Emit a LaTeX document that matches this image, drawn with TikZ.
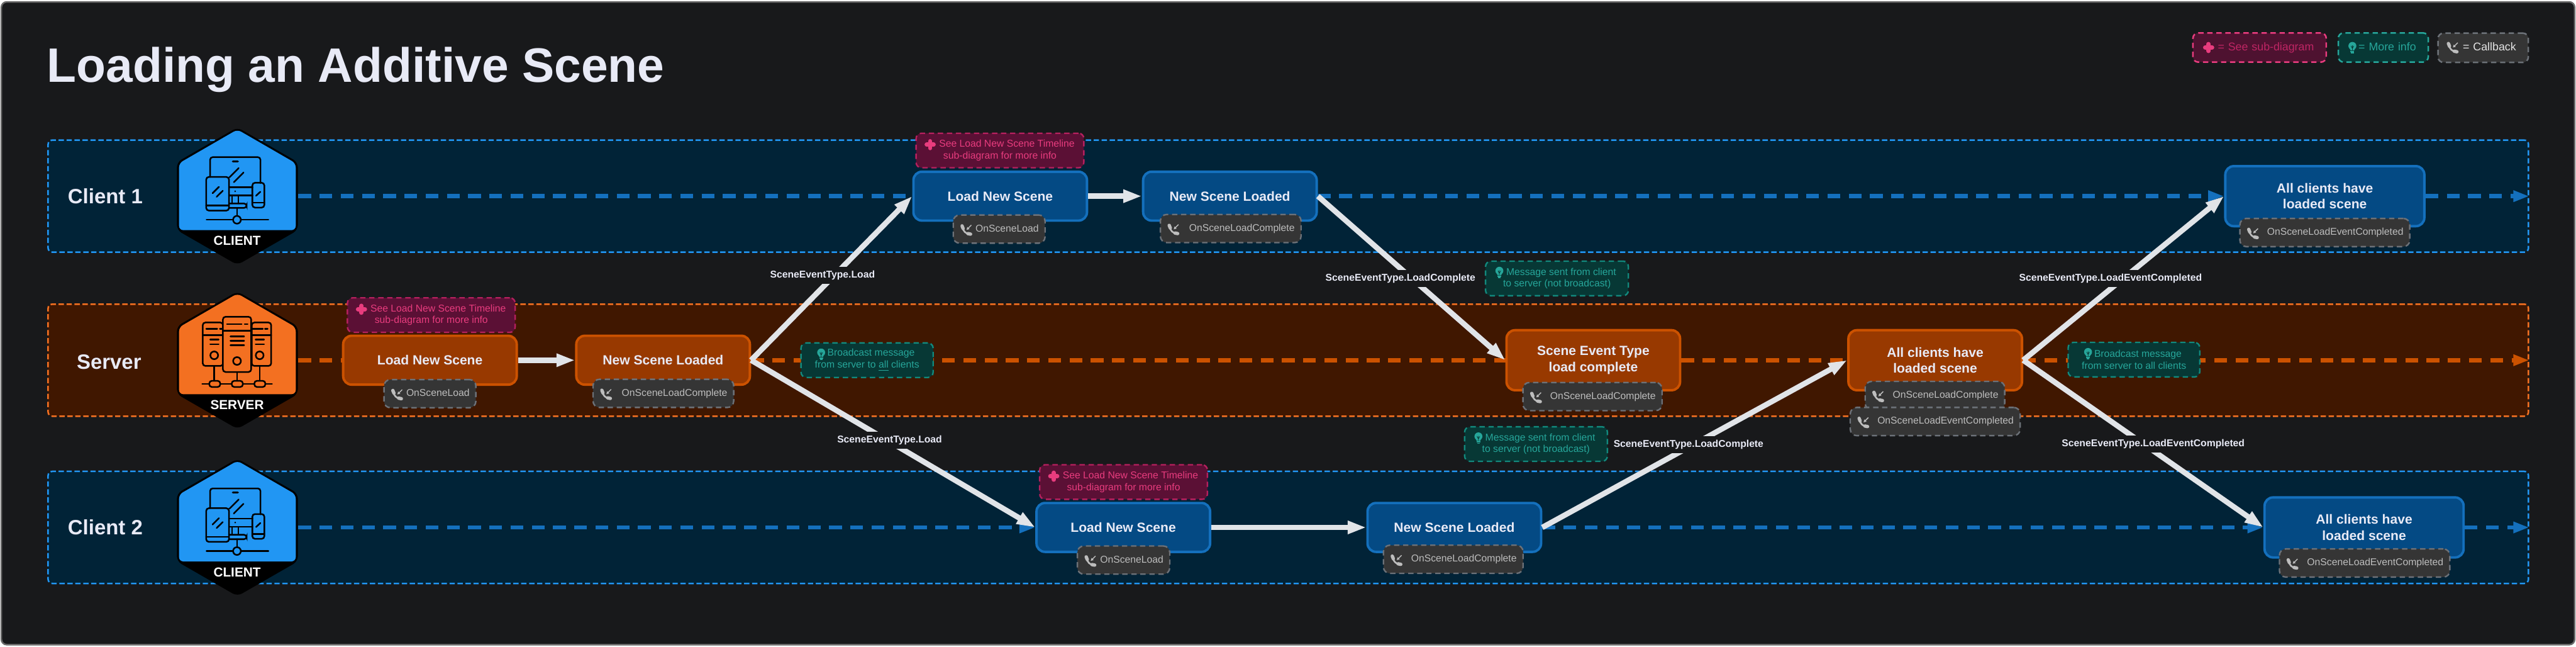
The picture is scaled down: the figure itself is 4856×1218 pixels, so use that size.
\documentclass[tikz,border=0pt]{standalone}
\usepackage{fontspec}
\setmainfont{Liberation Sans}
\usetikzlibrary{arrows.meta,backgrounds}
\definecolor{bgdark}{HTML}{18191B}
\definecolor{frameline}{HTML}{6A6A6A}
\definecolor{clientlane}{HTML}{012337}
\definecolor{clientedge}{HTML}{2196F3}
\definecolor{clientnode}{HTML}{044A84}
\definecolor{clientline}{HTML}{1470BD}
\definecolor{serverlane}{HTML}{401700}
\definecolor{serveredge}{HTML}{F37021}
\definecolor{servernode}{HTML}{983900}
\definecolor{serverline}{HTML}{CC5200}
\definecolor{subfill}{HTML}{5B1035}
\definecolor{subedge}{HTML}{B5205E}
\definecolor{subtext}{HTML}{E83C7E}
\definecolor{notefill}{HTML}{073835}
\definecolor{noteedge}{HTML}{12897D}
\definecolor{notetext}{HTML}{26A69A}
\definecolor{cbfill}{HTML}{353535}
\definecolor{cbedge}{HTML}{6C7178}
\definecolor{cbtext}{HTML}{BDBDBD}
\definecolor{arrowwhite}{HTML}{E1E4E8}
\definecolor{titletext}{HTML}{E8EAF6}
\tikzset{
  lanebox/.style={
    rectangle, rounded corners=.08cm, line width=.85pt, dash pattern=on .1cm off .05cm,
    minimum width=46.73cm, minimum height=2.11cm
  },
  stepbox/.style={
    rectangle, rounded corners=.16cm, line width=1.3pt, minimum width=3.27cm, minimum height=.92cm,
    align=center, text=titletext, font=\fontsize{7.1}{8.5}\selectfont\bfseries
  },
  clientbox/.style={stepbox, draw=clientline, fill=clientnode},
  serverbox/.style={stepbox, draw=serverline, fill=servernode},
  tallbox/.style={minimum height=1.13cm},
  widebox/.style={minimum width=3.75cm},
  cbbox/.style={
    rectangle, rounded corners=.12cm, draw=cbedge, fill=cbfill, line width=.8pt,
    dash pattern=on .1cm off .07cm, text width=#1, align=right, inner xsep=.12cm,
    minimum height=.53cm, text height=.14cm, text depth=.04cm, text=cbtext,
    font=\fontsize{5.3}{6.3}\selectfont
  },
  subbox/.style={
    rectangle, rounded corners=.1cm, draw=subedge, fill=subfill, line width=.8pt,
    dash pattern=on .1cm off .07cm, minimum width=3.16cm, minimum height=.65cm,
    inner sep=0pt, align=center, text=subtext, font=\fontsize{5.3}{6.25}\selectfont
  },
  notebox/.style={
    rectangle, rounded corners=.1cm, draw=noteedge, fill=notefill, line width=.8pt,
    dash pattern=on .1cm off .07cm, minimum width=#1, minimum height=.65cm,
    inner sep=0pt, align=center, text=notetext, font=\fontsize{5.3}{6.25}\selectfont
  },
  legendbox/.style={
    rectangle, rounded corners=.1cm, line width=.85pt, dash pattern=on .1cm off .07cm,
    text width=#1, align=right, inner xsep=.23cm, minimum height=.55cm,
    text height=.16cm, text depth=.05cm, font=\fontsize{6}{7}\selectfont
  },
  eventlabel/.style={
    rectangle, fill=bgdark, inner xsep=.03cm, inner ysep=0pt, minimum height=.32cm,
    text=titletext, font=\fontsize{5.3}{6.3}\selectfont\bfseries
  },
  flowarrow/.style={-{Triangle[length=.35cm,width=.23cm]}, line width=2.9pt, draw=arrowwhite},
  clientdash/.style={line width=2.3pt, draw=clientline, dash pattern=on .24cm off .16cm},
  serverdash/.style={line width=2.3pt, draw=serverline, dash pattern=on .24cm off .16cm},
  dashtip/.style={-{Triangle[length=.3cm,width=.2cm]}},
  lanename/.style={text=titletext, font=\fontsize{11.1}{13}\selectfont\bfseries},
  badgename/.style={text=white, font=\fontsize{7}{8}\selectfont\bfseries},
  pics/hexbadge/.style={code={
    \fill[black, rounded corners=.1cm] (0,-129.5) -- (114,-64) -- (114,64) -- (0,129.5) -- (-114,64) -- (-114,-64) -- cycle;
    \fill[#1, rounded corners=.08cm] (0,-125.5) -- (110,-62) -- (110,64) -- (-110,64) -- (-110,-62) -- cycle;
  }},
  pics/plusicon/.style={code={
    \draw[#1, line width=2.3pt, line cap=round] (-6.5,0) -- (6.5,0) (0,-6.5) -- (0,6.5);
  }},
  pics/bulbicon/.style={code={
    \fill[#1] (0,-3) circle[radius=7.5];
    \fill[#1] (-5.5,0) -- (5.5,0) -- (3.5,5.5) -- (-3.5,5.5) -- cycle;
    \draw[#1, line width=.5pt] (-3.5,7.5) -- (3.5,7.5) (-2.5,10) -- (2.5,10);
    \draw[notefill, line width=.25pt] (-2.5,-3) -- (0,2) -- (2.5,-3) (0,-4) -- (0,5);
  }},
  pics/phoneicon/.style={code={
    \draw[#1, line width=.9pt] (-7,-6) .. controls (-7,1) and (0,8) .. (6,7);
    \draw[#1, line width=1.8pt, line cap=round] (-8,-8) -- (-6,-3) (3,6.5) -- (8,7.5);
    \draw[#1, line width=.5pt] (9.5,-9.5) -- (3,-3);
    \fill[#1] (0.5,-0.5) -- (6,-2) -- (2,-6) -- cycle;
  }},
  pics/clienticon/.style={code={
    \begin{scope}[draw=black, line width=.85pt, line cap=round, rounded corners=.05cm]
    % monitor
    \draw (-51.5,-36) -- (-51.5,-73.5) -- (43.5,-73.5) -- (43.5,-24.5);
    \draw (-15.8,-16.8) -- (28.5,-16.8) (-15.8,-1.2) -- (28.5,-1.2);
    \draw (-10.2,-1.2) -- (-10.2,13.8) (1.8,-1.2) -- (1.8,13.8);
    \draw (-15.8,13.8) -- (17.5,13.8) -- (17.5,22.2) -- (-15.8,22.2);
    \draw[line width=1.1pt] (-8.5,-65.5) -- (0.8,-65.5);
    \fill[black] (-4.2,-9.2) circle[radius=1.6];
    \draw (-14.8,-35.5) -- (2.5,-52.8) (-6.8,-26.2) -- (11.5,-44.5);
    % tablet
    \draw (-58.8,-36.2) rectangle (-15.8,27.2);
    \draw (-58.8,17.8) -- (-15.8,17.8);
    \draw (-46.8,-5.5) -- (-34.8,-17.5) (-39.2,1.2) -- (-27.5,-10.2);
    % phone
    \draw (28.2,-25.2) rectangle (50.8,21.5);
    \draw (28.2,12.5) -- (50.8,12.5);
    \draw (35.2,-0.8) -- (43.2,-8.2);
    % network
    \draw (-0.8,22.2) -- (-0.8,37.2);
    \draw (-58.2,44.5) -- (58.5,44.5);
    \draw[fill=clientedge] (-0.8,44.5) circle[radius=7.3];
    \end{scope}
  }},
  pics/servericon/.style={code={
    \begin{scope}[draw=black, line width=.85pt, line cap=round, rounded corners=.05cm]
    % stems
    \draw (-43.7,10.8) -- (-43.7,39.8) (-0.7,22.2) -- (-0.7,39.8) (42,10.8) -- (42,39.8);
    \draw (-66.3,44.8) -- (65.3,44.8);
    \draw[fill=serveredge] (-53,38.8) rectangle (-32.3,50.5);
    \draw[fill=serveredge] (-10.7,38.8) rectangle (10.3,50.5);
    \draw[fill=serveredge] (32,38.8) rectangle (52.7,50.5);
    % side towers
    \draw (-65.3,-71) rectangle (-27,10.8);
    \draw (-65.3,-47.5) -- (-27,-47.5);
    \draw (-58.7,-59) -- (-38,-59) (-33,-59) -- (-28,-59);
    \draw (-51.3,-39) -- (-35.3,-39) (-51.3,-29.8) -- (-35.3,-29.8);
    \draw (-43.7,-9.2) circle[radius=7.3];
    \draw (27,-71) rectangle (63.7,10.8);
    \draw (27,-47.5) -- (63.7,-47.5);
    \draw (28,-59) -- (48,-59) (52,-59) -- (57,-59);
    \draw (34.3,-39) -- (50.3,-39) (34.3,-29.8) -- (50.3,-29.8);
    \draw (42,-9.2) circle[radius=7.3];
    % middle tower
    \draw[fill=serveredge] (-27.3,-81.8) rectangle (26,22.2);
    \draw (-27.3,-55.8) -- (26,-55.8);
    \draw (-19.7,-68) -- (8,-68) (13.7,-68) -- (19.3,-68);
    \draw (-13,-45) -- (12.7,-45) (-13,-36.8) -- (12.7,-36.8) (-13,-28.2) -- (12.7,-28.2);
    \draw (-0.7,1.5) circle[radius=7.3];
    \end{scope}
  }}
}

\begin{document}
\begin{tikzpicture}[x=0.01cm, y=-0.01cm]
\useasboundingbox (0,0) rectangle (4856,1218);

% Title
\node[anchor=base west, inner sep=0pt, text=titletext, font=\fontsize{25.9}{30}\selectfont\bfseries] (title) at (88,155) {Loading an Additive Scene};

% Legend
\node[legendbox=2.05cm, draw=subtext, fill=subfill!80!bgdark, text=subedge!80!subtext] (legSub) at (4259.5,89.5) {= See sub-diagram};
\node[legendbox=1.235cm, draw=notetext, fill=notefill, text=notetext] (legNote) at (4492.7,89.5) {= More info};
\node[legendbox=1.24cm, draw=cbedge, fill=cbfill, text=white!90!black] (legCb) at (4681,90) {= Callback};
\pic at ([xshift=.31cm]legSub.west) {plusicon=subtext};
\pic at ([xshift=.28cm]legNote.west) {bulbicon=notetext};
\pic at ([xshift=.29cm]legCb.west) {phoneicon=cbtext};

% Badges
\node[minimum width=2.28cm, minimum height=2.59cm, inner sep=0pt] (hexA) at (447.5,369.5) {};
\node[minimum width=2.28cm, minimum height=2.59cm, inner sep=0pt] (hexS) at (447.5,678.5) {};
\node[minimum width=2.28cm, minimum height=2.59cm, inner sep=0pt] (hexC) at (447.5,993.5) {};
\pic at (hexA.center) {hexbadge=clientedge};
\pic at (hexA.center) {clienticon};
\pic at (hexS.center) {hexbadge=serveredge};
\pic at (hexS.center) {servericon};
\pic at (hexC.center) {hexbadge=clientedge};
\pic at (hexC.center) {clienticon};
\node[badgename] (tagA) at (447,453.5) {CLIENT};
\node[badgename] (tagS) at (447,762.5) {SERVER};
\node[badgename] (tagC) at (447,1077.5) {CLIENT};

% Lane names
\node[lanename] (nameA) at (198.5,369.5) {Client 1};
\node[lanename] (nameS) at (205.5,682) {Server};
\node[lanename] (nameC) at (198.5,993.5) {Client 2};

% Client 1 row
\node[clientbox] (loadA) at (1885.5,369.5) {Load New Scene};
\node[clientbox] (newA) at (2318.5,369.5) {New Scene Loaded};
\node[clientbox, tallbox, widebox] (allA) at (4382.5,369.5) {All clients have\\loaded scene};

% Server row
\node[serverbox] (loadS) at (810.5,678.5) {Load New Scene};
\node[serverbox] (newS) at (1250,678.5) {New Scene Loaded};
\node[serverbox, tallbox] (sceneS) at (3003.5,678.5) {Scene Event Type\\load complete};
\node[serverbox, tallbox] (allS) at (3648,678.5) {All clients have\\loaded scene};

% Client 2 row
\node[clientbox] (loadC) at (2117.5,993.5) {Load New Scene};
\node[clientbox] (newC) at (2741.5,993.5) {New Scene Loaded};
\node[clientbox, tallbox, widebox] (allC) at (4456.5,993.5) {All clients have\\loaded scene};

% Lanes and dashed timelines
\begin{scope}[on background layer]
\node[rectangle, rounded corners=.1cm, draw=frameline, fill=bgdark, line width=.85pt, minimum width=48.48cm, minimum height=12.1cm] (frame) at (2428,609) {};
\node[lanebox, draw=clientedge, fill=clientlane] (laneA) at (2428.5,369.5) {};
\node[lanebox, draw=serveredge, fill=serverlane] (laneS) at (2428.5,678.5) {};
\node[lanebox, draw=clientedge, fill=clientlane] (laneC) at (2428.5,993.5) {};
\draw[clientdash] (hexA.east) -- (loadA.west);
\draw[clientdash, dashtip] (newA.east) -- (allA.west);
\draw[clientdash, dashtip] (allA.east) -- (laneA.east);
\draw[serverdash] (hexS.east) -- (loadS.west);
\draw[serverdash] (newS.east) -- (sceneS.west);
\draw[serverdash] (sceneS.east) -- (allS.west);
\draw[serverdash, dashtip] (allS.east) -- (laneS.east);
\draw[clientdash, dashtip] (hexC.east) -- (loadC.west);
\draw[clientdash, dashtip] (newC.east) -- (allC.west);
\draw[clientdash, dashtip] (allC.east) -- (laneC.east);
\end{scope}

% Arrows
\draw[flowarrow] (loadS) -- (newS);
\draw[flowarrow] (loadA) -- (newA);
\draw[flowarrow] (loadC) -- (newC);
\draw[flowarrow] (newS.east) -- (loadA.west);
\draw[flowarrow] (newS.east) -- (loadC.west);
\draw[flowarrow] (newA.east) -- (sceneS.west);
\draw[flowarrow] (newC.east) -- (allS.west);
\draw[flowarrow] (allS.east) -- (allA.west);
\draw[flowarrow] (allS.east) -- (allC.west);

% Arrow labels
\node[eventlabel] (evLoadA) at (1550.5,519) {SceneEventType.Load};
\node[eventlabel] (evLoadC) at (1677,829) {SceneEventType.Load};
\node[eventlabel] (evDoneA) at (2640,525) {SceneEventType.LoadComplete};
\node[eventlabel] (evDoneC) at (3183,837) {SceneEventType.LoadComplete};
\node[eventlabel] (evAllA) at (3978.5,525) {SceneEventType.LoadEventCompleted};
\node[eventlabel] (evAllC) at (4059,836) {SceneEventType.LoadEventCompleted};

% Sub-diagram notes
\node[subbox] (subA) at (1885,283.5) {\hspace*{.26cm}See Load New Scene Timeline\\sub-diagram for more info};
\node[subbox] (subS) at (813,593.5) {\hspace*{.26cm}See Load New Scene Timeline\\sub-diagram for more info};
\node[subbox] (subC) at (2118,908) {\hspace*{.26cm}See Load New Scene Timeline\\sub-diagram for more info};
\foreach \sb in {subA,subS,subC}
  \pic at ([xshift=-1.315cm,yshift=.11cm]\sb.center) {plusicon=subtext};

% Info notes
\node[notebox=2.49cm] (noteS) at (1634.5,678.5) {\hspace*{.15cm}Broadcast message\\from server to \underline{all} clients};
\node[notebox=2.48cm] (noteR) at (4022.7,677.5) {\hspace*{.15cm}Broadcast message\\from server to all clients};
\node[notebox=2.69cm] (noteU) at (2935,524.5) {\hspace*{.16cm}Message sent from client\\to server (not broadcast)};
\node[notebox=2.69cm] (noteD) at (2895.5,836.5) {\hspace*{.16cm}Message sent from client\\to server (not broadcast)};
\foreach \nt in {noteS,noteR}
  \pic at ([xshift=-.865cm,yshift=.115cm]\nt.center) {bulbicon=notetext};
\foreach \nt in {noteU,noteD}
  \pic at ([xshift=-1.085cm,yshift=.115cm]\nt.center) {bulbicon=notetext};

% Callbacks
\node[cbbox=1.49cm] (cbLoadA) at (1883.5,431.5) {OnSceneLoad};
\node[cbbox=2.41cm] (cbNewA) at (2320,430.5) {OnSceneLoadComplete};
\node[cbbox=2.96cm] (cbAllA) at (4382.5,438) {OnSceneLoadEventCompleted};
\node[cbbox=1.49cm] (cbLoadS) at (810.5,741.5) {OnSceneLoad};
\node[cbbox=2.41cm] (cbNewS) at (1250.5,741) {OnSceneLoadComplete};
\node[cbbox=2.38cm] (cbSceneS) at (3002,747) {OnSceneLoadComplete};
\node[cbbox=2.39cm] (cbOneS) at (3647.5,745) {OnSceneLoadComplete};
\node[cbbox=2.96cm] (cbTwoS) at (3648,794) {OnSceneLoadEventCompleted};
\node[cbbox=1.5cm] (cbLoadC) at (2118,1055) {OnSceneLoad};
\node[cbbox=2.39cm] (cbNewC) at (2739.5,1053.5) {OnSceneLoadComplete};
\node[cbbox=2.97cm] (cbAllC) at (4457.5,1060.5) {OnSceneLoadEventCompleted};
\foreach \cb in {cbLoadA,cbNewA,cbAllA,cbLoadS,cbNewS,cbSceneS,cbOneS,cbTwoS,cbLoadC,cbNewC,cbAllC}
  \pic at ([xshift=.26cm,yshift=-.02cm]\cb.west) {phoneicon=cbtext};
\end{tikzpicture}
\end{document}
